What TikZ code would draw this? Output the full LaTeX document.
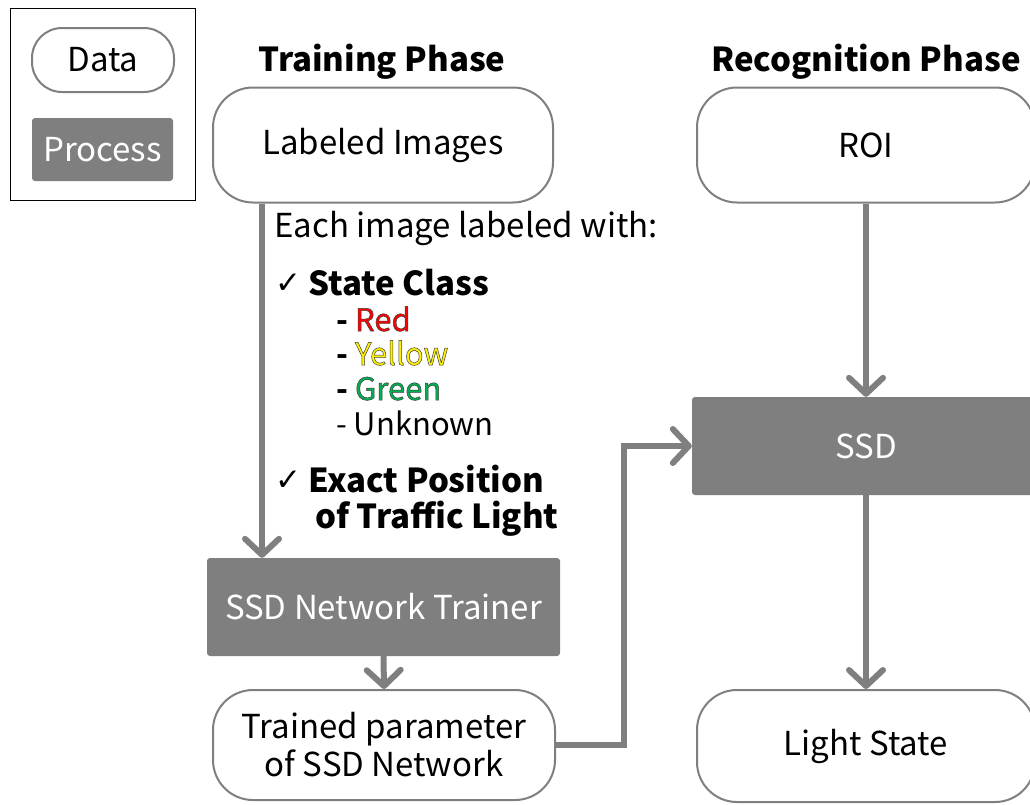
\documentclass[tikz,border=0pt]{standalone}
\usepackage{fontspec}
\setmainfont{Noto Sans CJK JP}
\newfontfamily\symfont{DejaVu Sans}
\usetikzlibrary{arrows.meta}
\definecolor{boxgray}{HTML}{7F7F7F}
\definecolor{lightgreen}{HTML}{00B050}
\newcommand{\bigtxt}{\fontsize{33}{42}\selectfont}
\newcommand{\subtxt}{\fontsize{31}{38}\selectfont}
\newcommand{\tick}{{\symfont\fontsize{31}{36}\selectfont ✓}}
% coloured word with a thin dark outline (fill and stroke text render mode)
\newcommand{\outlined}[2]{\textcolor{#1}{\special{pdf:literal 2 Tr 0.5 w 0.25 0.25 0.25 RG}#2\special{pdf:literal 0 Tr}}}
\tikzset{
  datanode/.style={draw=boxgray, line width=2pt, fill=white, rounded corners=40pt,
    inner sep=0pt, align=center, font=\bigtxt},
  procnode/.style={fill=boxgray, rounded corners=3pt, inner sep=0pt,
    text=white, align=center, font=\bigtxt},
  heading/.style={font=\bigtxt\bfseries, inner sep=0pt},
  listtxt/.style={anchor=base west, inner sep=0pt, font=\bigtxt},
  flow/.style={draw=boxgray, line width=6pt,
    -{Straight Barb[length=16pt, width=34pt, line width=6pt, round]}}
}
\begin{document}
\begin{tikzpicture}[x=1pt, y=-1pt]
\useasboundingbox (0,0) rectangle (1030,804);

% legend
\node[draw=black, line width=1pt, minimum width=185pt, minimum height=192pt, inner sep=0pt]
  (legend) at (102.5,104) {};
\node[datanode, rounded corners=30pt, minimum width=142pt, minimum height=64pt]
  (legdata) at (103,60) {Data};
\node[procnode, minimum width=141pt, minimum height=63pt]
  (legproc) at (102.5,149.5) {Process};

% phase headings
\node[heading] (trainhead) at (382,62) {Training Phase};
\node[heading] (recoghead) at (866,62) {Recognition Phase};

% training column
\node[datanode, minimum width=340pt, minimum height=115pt] (labeled) at (383,145) {Labeled Images};
\node[procnode, minimum width=353pt, minimum height=98pt] (trainer) at (383.5,607) {SSD Network Trainer};
\node[datanode, minimum width=342pt, minimum height=110pt] (trained) at (384,745)
  {Trained parameter\\[-4pt]of SSD Network};

% recognition column
\node[datanode, minimum width=338pt, minimum height=115pt] (roi) at (866,145) {ROI};
\node[procnode, minimum width=348pt, minimum height=98pt] (ssd) at (866,446) {SSD};
\node[datanode, minimum width=338pt, minimum height=112pt] (light) at (866,746) {Light State};

% label description
\node[listtxt] (each) at (274,237) {Each image labeled with:};
\node[listtxt] (tick1) at (275,293) {\tick};
\node[listtxt] (state) at (308,295) {\bfseries State Class};
\node[listtxt, font=\subtxt] (red) at (336,331) {\textbf{-} \outlined{red}{Red}};
\node[listtxt, font=\subtxt] (yellow) at (336,365) {\textbf{-} \outlined{yellow}{Yellow}};
\node[listtxt, font=\subtxt] (green) at (336,400) {\textbf{-} \outlined{lightgreen}{Green}};
\node[listtxt, font=\subtxt] (unknown) at (336,435) {- Unknown};
\node[listtxt] (tick2) at (275,490) {\tick};
\node[listtxt] (exact) at (308,492) {\bfseries Exact Position};
\node[listtxt] (traffic) at (315,528) {\bfseries of Traffic Light};

% connectors
\coordinate (leftline) at (262,0);
\coordinate (bend) at (624,0);
\draw[flow] (labeled.south -| leftline) -- (trainer.north -| leftline);
\draw[flow] (trainer.south) -- (trained.north);
\draw[flow] (trained.east) -- (trained.east -| bend) |- (ssd.west);
\draw[flow] (roi.south) -- (ssd.north);
\draw[flow] (ssd.south) -- (light.north);
\end{tikzpicture}
\end{document}
